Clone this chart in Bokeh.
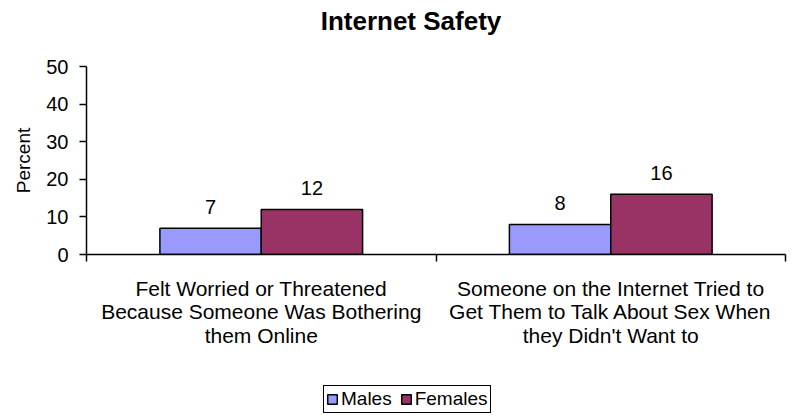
from bokeh.plotting import figure
from bokeh.layouts import column
from bokeh.models import ColumnDataSource, FixedTicker, Legend, LegendItem, Range1d, Div
from bokeh.core.properties import value
from bokeh.embed import file_html
from bokeh.resources import INLINE

title_text = "Internet Safety"
categories = ["Felt Worried or Threatened\nBecause Someone Was Bothering\nthem Online",
              "Someone on the Internet Tried to\nGet Them to Talk About Sex When\nthey Didn't Want to"]
males = [7, 8]
females = [12, 16]
series = ["Males", "Females"]
colors = ["#9999FF", "#993366"]
y_ticks = [0, 10, 20, 30, 40, 50]

FONT = "Liberation Sans"

# ---- title ----
title_div = Div(
    text=('<div style="box-sizing:border-box;width:792px;padding-left:30px;padding-top:6px;'
          'text-align:center;font-family:\'Liberation Sans\';font-size:26px;font-weight:bold;'
          'line-height:30px;color:black;">' + title_text + '</div>'),
    width=792, height=40, margin=(0, 0, 0, 0))

# ---- main chart ----
p = figure(width=792, height=320, output_backend="svg", toolbar_location=None,
           title=None, x_range=Range1d(0, 2), y_range=Range1d(0, 50),
           min_border_left=86, min_border_right=7, min_border_top=26, min_border_bottom=106,
           frame_width=699, frame_height=188, margin=(0, 0, 0, 0))
p.outline_line_color = None
p.grid.grid_line_color = None
p.background_fill_color = "white"
p.border_fill_color = "white"

idx = list(range(len(categories)))
src_m = ColumnDataSource(dict(x=[i + 0.355 for i in idx], y=males, lab=[str(v) for v in males]))
src_f = ColumnDataSource(dict(x=[i + 0.645 for i in idx], y=females, lab=[str(v) for v in females]))

p.vbar(x="x", top="y", width=0.29, bottom=0, source=src_m, fill_color=colors[0],
       line_color="black", line_width=1.5)
p.vbar(x="x", top="y", width=0.29, bottom=0, source=src_f, fill_color=colors[1],
       line_color="black", line_width=1.5)

for s in (src_m, src_f):
    p.text(x="x", y="y", text="lab", source=s, text_align="center", text_baseline="alphabetic",
           y_offset=-21, text_font=value(FONT), text_font_size="20px", text_color="black")

# x axis
xa = p.xaxis[0]
xa.ticker = FixedTicker(ticks=[i + 0.5 for i in idx], minor_ticks=[0, 1, 2])
xa.major_label_overrides = {i + 0.5: c for i, c in enumerate(categories)}
xa.major_tick_line_color = None
xa.major_tick_out = 0
xa.major_tick_in = 0
xa.minor_tick_line_color = "black"
xa.minor_tick_line_width = 1.5
xa.minor_tick_out = 7
xa.minor_tick_in = 0
xa.axis_line_color = "black"
xa.axis_line_width = 1.5
xa.major_label_standoff = 15
xa.major_label_text_font = FONT
xa.major_label_text_font_size = "21px"
xa.major_label_text_line_height = 1.03
xa.major_label_text_color = "black"

# y axis
ya = p.yaxis[0]
ya.ticker = FixedTicker(ticks=y_ticks)
ya.minor_tick_line_color = None
ya.major_tick_out = 7
ya.major_tick_in = 0
ya.axis_line_color = "black"
ya.axis_line_width = 1.5
ya.major_tick_line_width = 1.5
ya.major_label_standoff = 11
ya.major_label_text_font = FONT
ya.major_label_text_font_size = "20px"
ya.major_label_text_color = "black"
ya.axis_label = "Percent"
ya.axis_label_text_font = FONT
ya.axis_label_text_font_size = "19px"
ya.axis_label_text_font_style = "normal"
ya.axis_label_text_color = "black"
ya.axis_label_standoff = 9

# ---- legend strip ----
lf = figure(width=792, height=53, output_backend="svg", toolbar_location=None,
            title=None, x_range=Range1d(0, 1), y_range=Range1d(0, 1),
            x_axis_type=None, y_axis_type=None,
            min_border_left=0, min_border_right=0, min_border_top=0, min_border_bottom=0,
            margin=(0, 0, 0, 0))
lf.outline_line_color = None
lf.grid.grid_line_color = None
lf.border_fill_color = "white"
lf.background_fill_color = "white"
keys = []
for c in colors:
    # legend key renderers: a tiny bar hidden behind the legend box
    keys.append(lf.vbar(x=[0.5], top=[0.25], bottom=[0.05], width=0.01, fill_color=c,
                        line_color="black", line_width=1.5))

legend = Legend(items=[LegendItem(label=series[i], renderers=[keys[i]]) for i in range(len(series))],
                orientation="horizontal", location=(237, 0))
legend.label_text_font = FONT
legend.label_text_font_size = "19px"
legend.label_text_color = "black"
legend.glyph_width = 12
legend.glyph_height = 12
legend.label_standoff = 3
legend.spacing = 8
legend.padding = 2
legend.margin = 0
legend.border_line_color = "black"
legend.border_line_alpha = 1.0
legend.border_line_width = 1.5
legend.label_height = 16
legend.background_fill_color = "white"
legend.background_fill_alpha = 1.0
lf.add_layout(legend, "center")

layout = column(title_div, p, lf, spacing=0)
open("out.html", "w").write(file_html(layout, INLINE))
